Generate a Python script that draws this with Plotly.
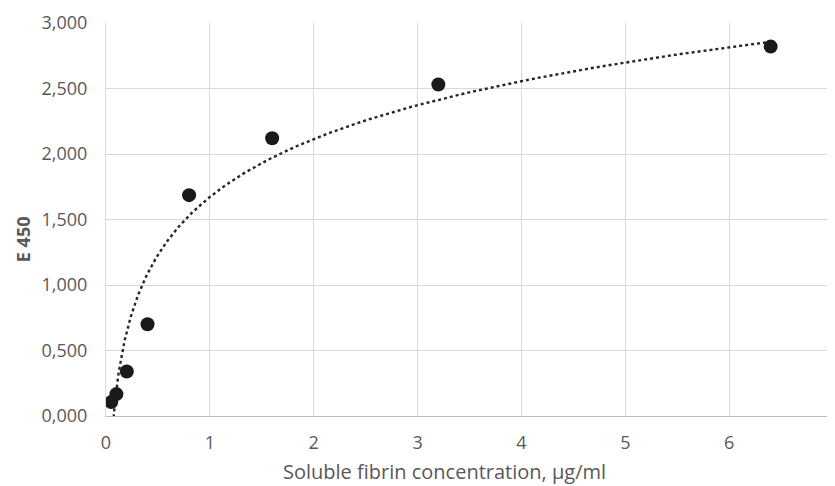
import numpy as np
import plotly.graph_objects as go

conc = [0.05, 0.1, 0.2, 0.4, 0.8, 1.6, 3.2, 6.4]
e450 = [0.106, 0.167, 0.340, 0.700, 1.686, 2.120, 2.530, 2.820]
x_ticks = [0, 1, 2, 3, 4, 5, 6, 7]
y_ticks = [0, 0.5, 1.0, 1.5, 2.0, 2.5, 3.0]
x_title = "Soluble fibrin concentration, µg/ml"
y_title = "E 450"

# Logarithmic trendline (least squares fit of y = a*ln(x) + b), as in the original
a, b = np.polyfit(np.log(conc), e450, 1)
xt = np.geomspace(conc[0], conc[-1], 300)
yt = a * np.log(xt) + b

font = "Open Sans, Liberation Sans, sans-serif"
gray = "#595959"

fig = go.Figure()
fig.add_trace(go.Scatter(x=xt, y=yt, mode="lines",
                         line=dict(color="#262626", width=2.4, dash="dot"),
                         hoverinfo="skip", showlegend=False))
fig.add_trace(go.Scatter(x=conc, y=e450, mode="markers",
                         marker=dict(color="#1a1a1a", size=14),
                         showlegend=False))

# page body has an 8px margin, so the figure is sized to fit the 835x486 window
fig.update_layout(
    width=827, height=478,
    margin=dict(l=98, r=2, t=13, b=70),
    paper_bgcolor="white", plot_bgcolor="white",
    separators=",.",
    font=dict(family=font, size=18, color=gray),
)
fig.update_xaxes(range=[0, 7], tickvals=x_ticks, showgrid=True, gridcolor="#d9d9d9",
                 gridwidth=1, zeroline=False, showline=True, linecolor="#bfbfbf",
                 linewidth=1, ticks="", ticklabelstandoff=10,
                 tickfont=dict(family=font, size=18, color=gray))
fig.update_yaxes(range=[0, 3], tickvals=y_ticks, tickformat=".3f", showgrid=True,
                 gridcolor="#d9d9d9", gridwidth=1, zeroline=False, showline=True,
                 linecolor="#d9d9d9", ticks="", ticklabelstandoff=14,
                 tickfont=dict(family=font, size=18, color=gray))

fig.add_annotation(text=x_title, xref="paper", yref="paper", x=0.466, y=0,
                   xanchor="center", yanchor="middle", yshift=-55, showarrow=False,
                   font=dict(family=font, size=20, color=gray))
fig.add_annotation(text="<b>" + y_title + "</b>", xref="paper", yref="paper", x=0, y=0.45,
                   xanchor="center", yanchor="middle", xshift=-83, textangle=-90,
                   showarrow=False, font=dict(family=font, size=18, color=gray))

fig.write_html("out.html")
